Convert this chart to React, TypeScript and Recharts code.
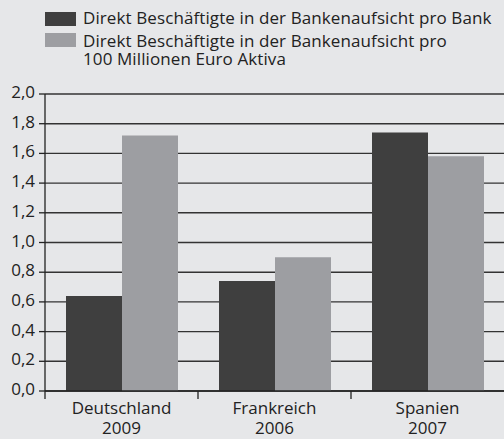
import { Bar, BarChart, CartesianGrid, XAxis, YAxis } from "recharts";

const countries = ["Deutschland", "Frankreich", "Spanien"];
const years = ["2009", "2006", "2007"];
const perBank = [0.64, 0.74, 1.74];
const perAssets = [1.72, 0.9, 1.58];
const yTicks = [0, 0.2, 0.4, 0.6, 0.8, 1.0, 1.2, 1.4, 1.6, 1.8, 2.0];

const bankLabel = "Direkt Beschäftigte in der Bankenaufsicht pro Bank";
const assetsLabel = ["Direkt Beschäftigte in der Bankenaufsicht pro", "100 Millionen Euro Aktiva"];

const DARK = "#3f3f3f";
const LIGHT = "#9d9ea2";
const BG = "#e6e7e9";
const INK = "#222";
const FONT = "'Open Sans', sans-serif";

const data = countries.map((c, i) => ({
  country: c,
  year: years[i],
  bank: perBank[i],
  assets: perAssets[i],
}));

function LegendBox() {
  const swatch = (color: string, top: number) => (
    <div style={{ position: "absolute", left: 45, top, width: 31, height: 14, background: color }} />
  );
  const text = {
    position: "absolute" as const,
    left: 83,
    fontFamily: FONT,
    fontSize: 17,
    lineHeight: "17.5px",
    color: INK,
    letterSpacing: 0.1,
    whiteSpace: "nowrap" as const,
  };
  return (
    <div style={{ position: "absolute", left: 0, top: 0, width: 504, height: 80 }}>
      {swatch(DARK, 12)}
      <div style={{ ...text, top: 9 }}>{bankLabel}</div>
      {swatch(LIGHT, 33)}
      <div style={{ ...text, top: 32 }}>
        {assetsLabel[0]}
        <br />
        {assetsLabel[1]}
      </div>
    </div>
  );
}

function CountryTick(props: any) {
  const { x, y, payload, index } = props;
  const off = payload.offset ?? 0;
  const row = data[index];
  return (
    <g>
      <line x1={x - off} x2={x - off} y1={y - 8} y2={y} stroke={INK} strokeWidth={1.3} />
      <text x={x} y={y + 15} textAnchor="middle" fontFamily={FONT} fontSize={17} fill={INK}>
        {row ? row.country : payload.value}
      </text>
      <text x={x} y={y + 35} textAnchor="middle" fontFamily={FONT} fontSize={17} fill={INK}>
        {row ? row.year : ""}
      </text>
    </g>
  );
}

export default function App() {
  return (
    <div style={{ position: "relative", width: 504, height: 439, background: BG }}>
      <style>{"body{margin:0}"}</style>
      <LegendBox />
      <BarChart
        width={504}
        height={439}
        data={data}
        margin={{ top: 94, right: 0, left: 0, bottom: 0 }}
        barCategoryGap={21}
        barGap={0}
      >
        <CartesianGrid vertical={false} stroke="#333" strokeWidth={1.4} />
        <XAxis
          dataKey="country"
          axisLine={{ stroke: INK, strokeWidth: 1.4 }}
          tickLine={false}
          tick={<CountryTick />}
          interval={0}
          height={48}
        />
        <YAxis
          domain={[0, 2]}
          ticks={yTicks}
          width={45}
          interval={0}
          axisLine={{ stroke: INK, strokeWidth: 1.3 }}
          tickLine={{ stroke: INK, strokeWidth: 1.3 }}
          tickSize={6}
          tickMargin={4}
          tickFormatter={(v: number) => v.toFixed(1).replace(".", ",")}
          tick={{ fontFamily: FONT, fontSize: 17, fill: INK, dy: -2 }}
        />
        <Bar dataKey="bank" fill={DARK} isAnimationActive={false} />
        <Bar dataKey="assets" fill={LIGHT} isAnimationActive={false} />
      </BarChart>
    </div>
  );
}
